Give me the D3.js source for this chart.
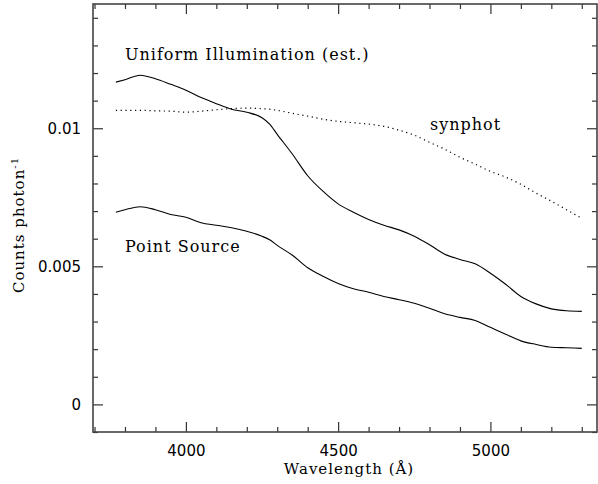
<!DOCTYPE html>
<html>
<head>
<meta charset="utf-8">
<script src="https://cdn.jsdelivr.net/npm/d3@7"></script>
<style>
body { margin: 0; background: #fff; }
</style>
</head>
<body>
<script>
var wavelength = [3770, 3800, 3850, 3900, 3950, 4000, 4050, 4100, 4150, 4200, 4250, 4275, 4300, 4350, 4400, 4450, 4500,
                  4550, 4600, 4650, 4700, 4750, 4800, 4850, 4900, 4950, 5000, 5050, 5100, 5150, 5200, 5250, 5300];

var uniform = [0.01167, 0.01176, 0.01192, 0.01179, 0.01159, 0.01138, 0.01111, 0.01089, 0.01069, 0.01058, 0.01038, 0.01015, 0.00978,
               0.00906, 0.00828, 0.00772, 0.00726, 0.00696, 0.00670, 0.00649, 0.00632, 0.00609, 0.00578, 0.00544, 0.00525,
               0.00509, 0.00475, 0.00435, 0.00391, 0.00364, 0.00346, 0.00339, 0.00337];

var pointSource = [0.00696, 0.00705, 0.00716, 0.00705, 0.00688, 0.00678, 0.00658, 0.00649, 0.00640, 0.00627, 0.00609, 0.00596, 0.00576,
                   0.00540, 0.00495, 0.00464, 0.00438, 0.00419, 0.00406, 0.00391, 0.00379, 0.00366, 0.00348, 0.00328, 0.00315,
                   0.00304, 0.00279, 0.00254, 0.00230, 0.00217, 0.00207, 0.00205, 0.00203];

var synphot = [0.01065, 0.01065, 0.01065, 0.01063, 0.01062, 0.01058, 0.01062, 0.01067, 0.01071, 0.01073, 0.01071, 0.01069, 0.01065,
               0.01054, 0.01044, 0.01033, 0.01025, 0.01020, 0.01015, 0.01007, 0.00993, 0.00975, 0.00949, 0.00924, 0.00895,
               0.00870, 0.00844, 0.00823, 0.00797, 0.00765, 0.00736, 0.00705, 0.00674];

var xMajor = [4000, 4500, 5000];
var yMajor = [0, 0.005, 0.01];
var yLabels = ["0", "0.005", "0.01"];

var W = 598, H = 484;
var pLeft = 93, pTop = 4, pRight = 597, pBottom = 432;

var xScale = d3.scaleLinear()
				.domain([3695, 5350])
				.range([pLeft, pRight]);

var yScale = d3.scaleLinear()
				.domain([-0.001, 0.0145])
				.range([pBottom, pTop]);

var svg = d3.select("body")
			.append("svg")
			.attr("width", W)
			.attr("height", H);

var xMinor = d3.range(3700, 5351, 100).filter(function(v){ return xMajor.indexOf(v) < 0; });
var yMinor = d3.range(-1, 15).filter(function(v){ return v % 5 !== 0; }).map(function(v){ return v / 1000; });

// axes, ticks pointing inwards on all four sides
function addAxis(axis, tx, ty){
	var g = svg.append("g")
			.attr("transform", "translate(" + tx + "," + ty + ")")
			.call(axis);
	g.select(".domain").remove();
	g.selectAll("line").attr("stroke", "#333").attr("stroke-width", 1.2);
	return g;
}

var bx = addAxis(d3.axisBottom(xScale).tickValues(xMajor).tickSize(-10).tickPadding(13).tickFormat(d3.format("d")), 0, pBottom);
bx.selectAll("text")
	.attr("font-family", "DejaVu Sans")
	.attr("font-size", "15px")
	.attr("fill", "#000");
addAxis(d3.axisBottom(xScale).tickValues(xMinor).tickSize(-5).tickFormat(""), 0, pBottom);
addAxis(d3.axisTop(xScale).tickValues(xMajor).tickSize(-10).tickFormat(""), 0, pTop);
addAxis(d3.axisTop(xScale).tickValues(xMinor).tickSize(-5).tickFormat(""), 0, pTop);

var ly = addAxis(d3.axisLeft(yScale).tickValues(yMajor).tickSize(-10).tickPadding(12).tickFormat(function(d, i){ return yLabels[i]; }), pLeft, 0);
ly.selectAll("text")
	.attr("font-family", "DejaVu Sans")
	.attr("font-size", "15px")
	.attr("fill", "#000");
addAxis(d3.axisLeft(yScale).tickValues(yMinor).tickSize(-5).tickFormat(""), pLeft, 0);
addAxis(d3.axisRight(yScale).tickValues(yMajor).tickSize(-10).tickFormat(""), pRight, 0);
addAxis(d3.axisRight(yScale).tickValues(yMinor).tickSize(-5).tickFormat(""), pRight, 0);

svg.append("rect")
	.attr("x", pLeft)
	.attr("y", pTop)
	.attr("width", pRight - pLeft)
	.attr("height", pBottom - pTop)
	.attr("fill", "none")
	.attr("stroke", "#444")
	.attr("stroke-width", 1.6);

var line = d3.line()
			.curve(d3.curveMonotoneX)
			.x(function(d, i){ return xScale(wavelength[i]); })
			.y(function(d){ return yScale(d); });

svg.append("path")
	.attr("d", line(uniform))
	.attr("fill", "none")
	.attr("stroke", "#000")
	.attr("stroke-width", 1.1);

svg.append("path")
	.attr("d", line(pointSource))
	.attr("fill", "none")
	.attr("stroke", "#000")
	.attr("stroke-width", 1.1);

svg.append("path")
	.attr("d", line(synphot))
	.attr("fill", "none")
	.attr("stroke", "#000")
	.attr("stroke-width", 1.2)
	.attr("stroke-dasharray", "1.2,3.6");

function label(txt, x, y){
	svg.append("text")
		.attr("x", x)
		.attr("y", y)
		.attr("font-family", "DejaVu Serif")
		.attr("font-size", "16px")
		.attr("letter-spacing", "1px")
		.attr("fill", "#000")
		.text(txt);
}
label("Uniform Illumination (est.)", 125, 60);
label("Point Source", 125, 252);
label("synphot", 430, 130);

svg.append("text")
	.attr("x", (pLeft + pRight) / 2 + 4)
	.attr("y", 474)
	.attr("text-anchor", "middle")
	.attr("font-family", "DejaVu Serif")
	.attr("font-size", "15px")
	.attr("letter-spacing", "1px")
	.attr("fill", "#000")
	.text("Wavelength (Å)");

var yl = svg.append("text")
	.attr("transform", "translate(24," + 225 + ") rotate(-90)")
	.attr("text-anchor", "middle")
	.attr("font-family", "DejaVu Serif")
	.attr("font-size", "15px")
	.attr("letter-spacing", "1px")
	.attr("fill", "#000");
yl.append("tspan").text("Counts photon");
yl.append("tspan").attr("dy", -6).attr("font-size", "10px").text("-1");
</script>
</body>
</html>
